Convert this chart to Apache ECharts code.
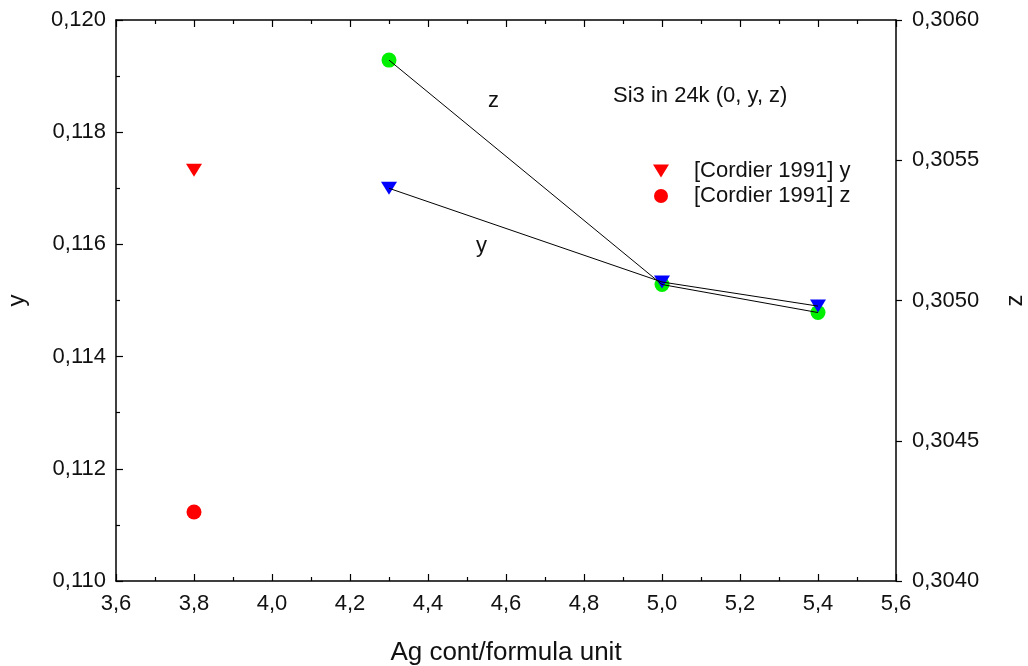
<!DOCTYPE html>
<html>
<head>
<meta charset="utf-8">
<script src="https://cdn.jsdelivr.net/npm/echarts@6/dist/echarts.min.js"></script>
<style>
html,body{margin:0;padding:0;background:#fff;}
#c{width:1028px;height:666px;}
</style>
</head>
<body>
<div id="c"></div>
<script>
// Data
var agContent = [4.3, 5.0, 5.4];
var yValues = [0.1170, 0.11533, 0.11490];
var zValues = [0.305857, 0.305057, 0.304957];
var cordierAg = [3.8];
var cordierY = [0.11732];
var cordierZ = [0.304246];
var xTicks = {min: 3.6, max: 5.6, interval: 0.2};
var yTicks = {min: 0.110, max: 0.120, interval: 0.002};
var zTicks = {min: 0.3040, max: 0.3060, interval: 0.0005};

var FONT = '"Liberation Sans", Arial, sans-serif';
var tri = 'path://M0,0 L16,0 L8,13 Z';

function pairs(xs, ys){ return xs.map(function(x,i){ return [x, ys[i]]; }); }
function comma(d){ return function(v){ return v.toFixed(d).replace('.', ','); }; }

var axisLine = {show: true, lineStyle: {color: '#000', width: 1.5}};
var labelStyle = {color: '#111', fontSize: 22, fontFamily: FONT};

var chart = echarts.init(document.getElementById('c'), null, {renderer: 'canvas'});
chart.setOption({
  backgroundColor: '#fff',
  animation: false,
  grid: {left: 116, right: 132, top: 20, bottom: 85, containLabel: false, outerBoundsMode: 'none'},
  legend: {
    orient: 'vertical', left: 648, top: 155, itemGap: 3,
    itemWidth: 16, itemHeight: 14,
    textStyle: {color: '#111', fontSize: 22, fontFamily: FONT, padding: [0,0,0,20]},
    data: [
      {name: '[Cordier 1991] y', icon: tri},
      {name: '[Cordier 1991] z', icon: 'circle'}
    ]
  },
  xAxis: [
    {type: 'value', min: xTicks.min, max: xTicks.max, interval: xTicks.interval,
     position: 'bottom',
     name: 'Ag cont/formula unit', nameLocation: 'middle', nameGap: 59,
     nameTextStyle: {color: '#111', fontSize: 26, fontFamily: FONT},
     axisLine: axisLine,
     axisTick: {show: true, inside: true, length: 7, lineStyle: {color: '#000', width: 1.2}},
     minorTick: {show: true, splitNumber: 2, length: 4, lineStyle: {color: '#000', width: 1.2}},
     axisLabel: Object.assign({formatter: comma(1), margin: 12}, labelStyle),
     splitLine: {show: false}},
    {type: 'value', min: xTicks.min, max: xTicks.max, interval: xTicks.interval,
     position: 'top',
     axisLine: axisLine,
     axisTick: {show: true, inside: true, length: 7, lineStyle: {color: '#000', width: 1.2}},
     minorTick: {show: true, splitNumber: 2, length: 4, lineStyle: {color: '#000', width: 1.2}},
     axisLabel: {show: false},
     splitLine: {show: false}}
  ],
  yAxis: [
    {type: 'value', min: yTicks.min, max: yTicks.max, interval: yTicks.interval,
     position: 'left',
     name: 'y', nameLocation: 'middle', nameGap: 87,
     nameTextStyle: {color: '#111', fontSize: 24, fontFamily: FONT},
     axisLine: axisLine,
     axisTick: {show: true, inside: true, length: 7, lineStyle: {color: '#000', width: 1.2}},
     minorTick: {show: true, splitNumber: 2, length: 4, lineStyle: {color: '#000', width: 1.2}},
     axisLabel: Object.assign({formatter: comma(3), margin: 10}, labelStyle),
     splitLine: {show: false}},
    {type: 'value', min: zTicks.min, max: zTicks.max, interval: zTicks.interval,
     position: 'right',
     name: 'z', nameLocation: 'middle', nameGap: 107,
     nameTextStyle: {color: '#111', fontSize: 24, fontFamily: FONT},
     axisLine: axisLine,
     axisTick: {show: true, inside: false, length: 6, lineStyle: {color: '#000', width: 1.2}},
     axisLabel: Object.assign({formatter: comma(4), margin: 16}, labelStyle),
     splitLine: {show: false}}
  ],
  series: [
    {name: 'z-pts', type: 'scatter', yAxisIndex: 1, data: pairs(agContent, zValues),
     symbol: 'circle', symbolSize: 15, itemStyle: {color: '#00f000', opacity: 1}, z: 2},
    {name: 'y-pts', type: 'scatter', yAxisIndex: 0, data: pairs(agContent, yValues),
     symbol: tri, symbolSize: [16, 13], itemStyle: {color: '#0000ff', opacity: 1}, z: 3},
    {name: 'z-line', type: 'line', yAxisIndex: 1, data: pairs(agContent, zValues),
     showSymbol: false, symbol: 'none', lineStyle: {color: '#000', width: 1}, z: 4},
    {name: 'y-line', type: 'line', yAxisIndex: 0, data: pairs(agContent, yValues),
     showSymbol: false, symbol: 'none', lineStyle: {color: '#000', width: 1}, z: 4},
    {name: '[Cordier 1991] y', type: 'scatter', yAxisIndex: 0, data: pairs(cordierAg, cordierY),
     symbol: tri, symbolSize: [16, 13], itemStyle: {color: '#ff0000', opacity: 1}, z: 3},
    {name: '[Cordier 1991] z', type: 'scatter', yAxisIndex: 1, data: pairs(cordierAg, cordierZ),
     symbol: 'circle', symbolSize: 15, itemStyle: {color: '#ff0000', opacity: 1}, z: 3}
  ],
  graphic: [
    {type: 'text', left: 613, top: 85, style: {text: 'Si3 in 24k (0, y, z)', fontSize: 22, fontFamily: FONT, fill: '#111'}},
    {type: 'text', left: 488, top: 90, style: {text: 'z', fontSize: 22, fontFamily: FONT, fill: '#111'}},
    {type: 'text', left: 476, top: 235, style: {text: 'y', fontSize: 22, fontFamily: FONT, fill: '#111'}}
  ]
});
</script>
</body>
</html>
